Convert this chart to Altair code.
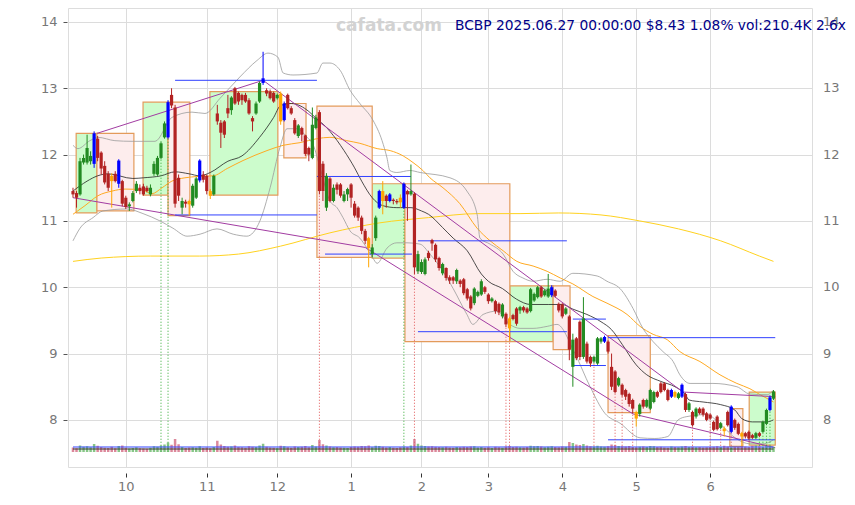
import altair as alt
import pandas as pd

# ---------------- data ----------------
month_tick_idx = [15, 38, 58, 79, 99, 118, 139, 160, 181]
month_tick_lbl = ["10", "11", "12", "1", "2", "3", "4", "5", "6"]
y_ticks = [8, 9, 10, 11, 12, 13, 14]

opens = [11.45,11.42,11.40,11.88,11.88,11.90,11.86,12.24,12.03,11.83,
         11.71,11.68,11.71,11.56,11.60,11.35,11.22,11.30,11.45,11.50,
         11.52,11.50,11.40,11.71,11.70,11.95,12.26,12.26,12.90,12.71,
         11.65,11.20,11.29,11.30,11.23,11.35,11.61,11.70,11.68,11.45,
         11.40,12.62,12.48,12.50,12.70,12.67,13.00,12.93,12.90,12.90,
         12.82,12.55,12.62,12.80,13.08,12.97,12.95,12.93,12.85,12.92,
         12.52,12.90,12.70,12.52,12.28,12.40,12.29,12.10,11.95,12.40,
         12.64,11.86,11.20,11.64,11.30,11.55,11.55,11.30,11.40,11.55,
         11.26,11.20,11.05,10.85,10.74,10.50,10.74,11.20,11.45,11.38,
         11.30,11.32,11.30,11.35,11.20,11.45,11.40,11.41,10.24,10.23,
         10.20,10.52,10.71,10.64,10.44,10.21,10.29,10.15,10.15,10.09,
         10.10,10.12,9.97,9.86,9.76,9.87,9.89,10.00,9.89,9.79,
         9.79,9.75,9.56,9.60,9.53,9.58,9.68,9.65,9.70,9.68,
         9.64,9.80,9.85,10.00,9.88,9.86,9.88,9.95,9.75,9.74,
         9.60,9.56,8.80,9.23,9.48,8.95,9.15,8.95,8.88,8.85,
         9.18,9.18,9.18,8.80,8.73,8.52,8.53,8.45,8.39,8.30,
         8.12,8.09,8.30,8.20,8.17,8.27,8.42,8.55,8.55,8.45,
         8.35,8.42,8.33,8.35,8.39,8.15,8.12,8.05,8.17,8.17,
         8.10,8.08,7.97,8.05,7.88,7.87,8.12,7.82,8.00,7.94,
         7.80,7.80,7.82,7.77,7.73,7.80,7.82,7.94,8.15,8.32]
highs = [11.50,11.45,11.95,12.00,12.30,12.05,12.35,12.28,12.05,11.90,
         11.75,11.72,11.75,11.93,11.62,11.38,11.28,11.45,11.60,11.55,
         11.56,11.53,11.55,11.90,11.98,12.20,12.50,12.82,13.00,12.75,
         11.70,11.35,11.32,11.32,11.56,11.66,11.93,11.75,11.70,11.48,
         11.70,12.75,12.52,12.52,12.90,12.88,13.02,12.95,12.92,12.93,
         12.85,12.58,12.80,13.10,13.55,13.00,12.98,12.95,12.92,12.95,
         12.80,12.92,12.73,12.55,12.46,12.42,12.30,12.12,12.71,12.60,
         12.67,11.90,11.72,11.66,11.55,11.58,11.57,11.45,11.50,11.57,
         11.30,11.22,11.08,10.88,10.76,10.65,11.08,11.47,11.60,11.40,
         11.42,11.34,11.33,11.40,11.58,11.47,11.85,11.43,10.55,10.42,
         10.45,10.55,10.73,10.66,10.46,10.37,10.30,10.18,10.17,10.28,
         10.12,10.14,9.99,9.88,10.00,9.95,10.12,10.02,9.91,9.85,
         9.81,9.77,9.76,9.62,9.55,9.60,9.70,9.72,9.72,9.70,
         9.99,9.92,10.02,10.02,9.97,10.20,10.03,9.97,9.77,9.76,
         9.70,9.58,9.30,9.25,9.50,9.85,9.18,8.97,8.97,9.25,
         9.25,9.27,9.20,9.00,8.75,8.65,8.55,8.47,8.41,8.32,
         8.14,8.25,8.32,8.32,8.47,8.44,8.44,8.57,8.57,8.47,
         8.47,8.44,8.42,8.55,8.41,8.27,8.14,8.19,8.19,8.19,
         8.12,8.10,7.99,8.07,7.97,7.90,8.14,8.22,8.02,7.96,
         7.82,7.82,7.84,7.79,7.82,7.82,7.99,8.17,8.37,8.45]
lows = [11.35,11.20,11.38,11.85,11.85,11.85,11.80,11.90,11.70,11.55,
        11.45,11.20,11.58,11.50,11.22,11.18,11.15,11.28,11.42,11.40,
        11.38,11.43,11.37,11.68,11.68,11.93,12.24,12.24,12.70,11.20,
        11.30,11.10,11.20,11.08,11.20,11.33,11.58,11.58,11.40,11.33,
        11.38,12.45,12.10,12.25,12.55,12.60,12.75,12.75,12.75,12.78,
        12.60,12.35,12.60,12.78,13.05,12.88,12.83,12.78,12.83,12.45,
        12.50,12.68,12.60,12.30,12.25,12.20,11.98,11.90,11.93,12.38,
        11.40,11.30,11.15,11.28,11.28,11.40,11.35,11.28,11.30,11.20,
        11.05,11.00,10.80,10.65,10.30,10.45,10.70,11.18,11.10,11.20,
        11.28,11.25,11.25,11.20,11.18,11.00,11.38,10.20,10.20,10.20,
        10.18,10.40,10.55,10.38,10.25,10.18,10.10,10.05,10.05,10.05,
        10.00,9.88,9.80,9.65,9.73,9.85,9.87,9.90,9.75,9.77,
        9.60,9.58,9.53,9.40,9.20,9.50,9.42,9.60,9.62,9.60,
        9.62,9.78,9.83,9.84,9.86,9.84,9.85,9.85,9.62,9.53,
        9.58,8.90,8.50,8.90,8.90,8.92,8.85,8.80,8.85,8.83,
        9.15,9.16,9.00,8.45,8.40,8.50,8.35,8.30,8.20,8.10,
        7.90,8.05,8.17,8.18,8.15,8.25,8.33,8.40,8.43,8.28,
        8.33,8.33,8.31,8.33,8.12,8.12,7.90,8.02,8.08,8.05,
        7.98,8.00,7.83,7.84,7.86,7.75,7.90,7.80,7.85,7.77,
        7.60,7.72,7.70,7.71,7.71,7.74,7.80,7.92,8.13,8.30]
closes = [11.40,11.35,11.90,11.95,12.10,11.98,12.32,11.95,11.79,11.58,
          11.50,11.60,11.60,11.91,11.26,11.21,11.25,11.42,11.56,11.45,
          11.40,11.45,11.50,11.86,11.95,12.17,12.47,12.79,12.74,11.26,
          11.38,11.30,11.26,11.25,11.53,11.64,11.91,11.62,11.45,11.38,
          11.68,12.50,12.33,12.30,12.62,12.86,12.77,12.80,12.82,12.80,
          12.62,12.50,12.77,13.08,13.15,12.92,12.85,12.80,12.90,12.50,
          12.77,12.70,12.62,12.32,12.44,12.30,12.01,12.00,12.45,12.56,
          11.45,11.45,11.68,11.30,11.50,11.47,11.38,11.40,11.48,11.35,
          11.08,11.05,10.85,10.70,10.59,10.60,11.05,11.45,11.30,11.30,
          11.40,11.30,11.28,11.28,11.56,11.40,11.45,10.30,10.50,10.38,
          10.42,10.44,10.66,10.42,10.29,10.35,10.14,10.10,10.10,10.26,
          10.05,9.91,9.83,9.68,9.98,9.93,10.09,9.93,9.79,9.83,
          9.64,9.62,9.74,9.44,9.38,9.52,9.45,9.70,9.65,9.62,
          9.97,9.90,10.00,9.86,9.95,9.98,10.00,9.87,9.65,9.56,
          9.68,9.06,9.21,8.93,8.95,9.53,8.88,8.85,8.95,9.23,
          9.23,9.25,9.03,8.50,8.42,8.63,8.38,8.35,8.24,8.17,
          8.02,8.23,8.20,8.30,8.45,8.42,8.35,8.42,8.45,8.30,
          8.45,8.35,8.40,8.53,8.15,8.25,7.92,8.17,8.10,8.08,
          8.00,8.02,7.85,7.86,7.95,7.83,7.92,8.20,7.88,7.79,
          7.75,7.75,7.72,7.73,7.80,7.76,7.97,8.15,8.34,8.43]
vols = [180,150,260,210,230,190,320,250,200,170,
        160,210,150,240,260,170,140,160,190,150,
        140,130,170,230,210,260,300,380,290,520,
        310,200,160,180,190,170,230,160,180,150,
        200,450,300,240,210,220,260,200,190,170,
        230,210,200,260,330,210,180,170,150,250,
        230,190,170,220,200,210,240,190,280,220,
        480,310,260,220,190,200,180,170,160,200,
        220,210,240,230,260,190,250,240,210,180,
        200,170,160,190,220,200,260,520,330,260,
        240,220,230,210,200,190,210,180,170,200,
        190,210,200,220,230,180,200,170,190,160,
        210,190,170,220,240,200,210,190,180,200,
        250,230,240,220,190,210,230,200,190,220,
        210,400,360,300,280,320,260,230,220,250,
        220,210,230,300,280,240,230,220,240,200,
        190,210,220,200,240,230,200,210,180,170,
        220,200,190,220,240,200,210,190,200,180,
        190,200,210,230,200,250,220,190,210,200,
        230,220,200,250,260,230,210,240,250,210]
vol_ma_fast = 200
vol_ma_slow = 120

blue_idx = [6, 13, 27, 36, 54, 60, 87, 90, 94, 136, 151, 170, 173, 187, 198]
orange_idx = [11, 33, 39, 59, 84, 88, 93, 124, 160, 171, 185, 190]

# moving averages (bar index, price)
ma_black = [(0,11.45),(4,11.6),(7,11.68),(10,11.71),(17,11.64),(20,11.65),(25,11.68),(29,11.74),
            (33,11.71),(36,11.68),(39,11.73),(44,11.9),(48,11.98),(53,12.26),(57,12.56),(59,12.74),
            (62,12.77),(67,12.65),(69,12.55),(72,12.41),(73,12.35),(77,12.06),(80,11.8),(82,11.6),
            (85,11.35),(88,11.23),(92,11.2),(96,11.2),(99,11.15),(101,11.1),(105,10.9),(108,10.74),
            (112,10.55),(116,10.2),(118,10.09),(122,9.98),(126,9.82),(130,9.74),(135,9.74),(139,9.74),
            (142,9.67),(146,9.59),(150,9.48),(153,9.36),(156,9.14),(160,8.83),(163,8.68),(167,8.58),
            (171,8.5),(174,8.38),(175,8.3),(179,8.27),(184,8.23),(188,8.15),(190,8.02),(193,7.97),
            (197,7.97),(199,8.0)]
ma_orange = [(0,11.1),(3.4,11.23),(7.1,11.38),(11.1,11.45),(14.8,11.48),(19.6,11.47),(22.4,11.41),
             (25.3,11.5),(28.1,11.6),(31.8,11.65),(35.5,11.67),(39.8,11.68),(43.8,11.79),(48.3,11.91),
             (55.1,12.06),(59.7,12.14),(64.5,12.18),(69.3,12.24),(73,12.26),(77.8,12.21),(81.5,12.17),
             (86.4,12.09),(90.1,12.06),(93.8,11.98),(96.6,11.88),(99.4,11.76),(101.4,11.65),(105.1,11.5),
             (109.9,11.26),(114.8,10.89),(118.5,10.7),(122.2,10.55),(126.1,10.39),(130.7,10.32),
             (134.7,10.24),(138.4,10.14),(142,10.05),(147.7,9.86),(151.7,9.76),(157.4,9.59),(161.1,9.41),
             (164.8,9.29),(168.8,9.21),(172.4,9.03),(178.1,8.88),(183.8,8.68),(188.6,8.55),(192.3,8.47),
             (195.2,8.38),(198,8.3),(199,8.27)]
ma_yellow = [(0,10.39),(8,10.44),(22,10.47),(36,10.47),(47,10.5),(59,10.62),(73,10.82),(87,10.97),
             (101,11.05),(115,11.11),(127,11.11),(138,11.12),(150,11.09),(161,11.0),(172,10.88),
             (184,10.7),(195,10.47),(199,10.39)]
bb_upper = [(0,12.14),(1.4,12.09),(4.8,12.21),(7.1,12.26),(11.9,12.21),(16.8,12.2),(23.3,12.2),
            (28.1,12.56),(33.8,12.64),(37.5,12.62),(41.8,12.85),(47.4,13.17),(52.3,13.42),(55.4,13.53),
            (58.2,13.47),(59.7,13.23),(62.5,13.2),(69.3,13.23),(71,13.38),(73,13.38),(75.9,13.27),
            (78.7,12.97),(81.5,12.77),(85.2,12.52),(87.8,12.21),(89.2,11.95),(90,11.76),(92,11.73),
            (95.7,11.76),(98.6,11.73),(107.1,11.65),(111.9,11.45),(114.8,11.1),(115.6,10.74),
            (118.5,10.65),(122.2,10.5),(125,10.24),(127.8,10.14),(130.7,10.09),(134.7,10.12),
            (138.4,10.09),(142,10.21),(148.9,10.17),(151.7,10.09),(155.4,9.98),(159.1,9.68),
            (161.9,9.38),(164.8,9.18),(167.6,9.03),(170.5,8.88),(172.4,8.68),(175.3,8.55),(181.8,8.55),
            (188.6,8.5),(192.3,8.39),(197.2,8.38),(199,8.45)]
bb_lower = [(0,10.7),(2,10.89),(5.7,11.05),(8.5,11.15),(15.3,11.18),(19.9,11.11),(24.7,11.0),
            (28.4,10.89),(32.4,10.77),(36.1,10.8),(40.9,10.88),(45.5,10.8),(49.4,10.77),(53.1,11.0),
            (56,11.5),(58.8,12.11),(60.8,12.39),(63.6,12.39),(66.5,12.26),(68.2,12.15),(70.2,11.8),
            (73,11.3),(75,11.2),(76.7,11.05),(78.7,10.85),(81.5,10.74),(83.5,10.59),(85.2,10.44),
            (86.4,10.36),(89.2,10.59),(92,10.67),(94.9,10.67),(98.6,10.65),(101.4,10.5),(105.1,10.24),
            (108,9.98),(111.9,9.59),(113.6,9.44),(116.5,9.59),(120.5,9.64),(124.1,9.44),(127,9.38),
            (130.7,9.38),(134.7,9.41),(137.5,9.44),(142.6,9.0),(146.9,8.5),(151.1,8.1),(155.4,7.95),
            (161.1,7.73),(165.3,7.72),(169,7.75),(171.9,8.0),(174.4,8.05),(180.1,8.08),(183.8,7.94),
            (188.6,7.71),(192.3,7.64),(196,7.64),(198,7.67),(199,7.7)]

# trend lines (bar index, price)
trend_upper = [(6.8,12.32),(54,13.12),(173.3,8.42),(199.5,8.35)]
trend_lower = [(0,11.35),(83,10.6),(159.1,8.09),(199.5,7.58)]

# horizontal levels: start idx, end idx, price
lvl_x0 = [29, 29, 69.3, 71.6, 98, 98, 142, 142, 152, 152]
lvl_x1 = [69.3, 69.3, 96, 96.3, 140.3, 140.3, 151.4, 151.4, 199.5, 199.5]
lvl_y = [13.12, 11.09, 11.67, 10.5, 10.7, 9.33, 9.52, 8.82, 9.24, 7.7]

# boxes
gbox_x0 = [0.9, 19.9, 38.9, 85, 124.1, 192.1]
gbox_x1 = [6.8, 27.0, 58.2, 94.3, 136.4, 199.5]
gbox_lo = [11.12, 11.39, 11.39, 10.44, 9.18, 7.62]
gbox_hi = [12.32, 12.79, 12.95, 11.56, 10.02, 8.42]
pbox_x0 = [6.8, 27.0, 59.9, 69.3, 94.3, 136.4, 152, 186.6]
pbox_x1 = [17.3, 33.2, 66.2, 85, 124.1, 141.2, 164, 190.3]
pbox_lo = [11.15, 11.08, 11.95, 10.45, 9.18, 9.06, 8.11, 7.6]
pbox_hi = [12.32, 12.79, 12.77, 12.73, 11.56, 10.02, 9.27, 8.17]

green_sig = [25, 27, 94, 195, 196, 197, 198]
red_sig = [70, 97, 123, 124, 148, 154, 156, 159, 176, 181, 184, 187, 190]
sig_base = 7.52

title_text = "BCBP 2025.06.27 00:00:00 $8.43 1.08% vol:210.4K 2.6x"
watermark = "cafata.com"

# ---------------- frames ----------------
n = len(closes)
def kind(i):
    if i in blue_idx:
        return "blue"
    if i in orange_idx:
        return "orange"
    return "up" if closes[i] >= opens[i] else "down"

df = pd.DataFrame({"idx": list(range(n)), "open": opens, "high": highs, "low": lows,
                   "close": closes, "vol": vols})
df["kind"] = [kind(i) for i in range(n)]
df["vkind"] = ["up" if closes[i] >= opens[i] else "down" for i in range(n)]

def pts(lst):
    return pd.DataFrame({"idx": [p[0] for p in lst], "v": [p[1] for p in lst]})

gboxes = pd.DataFrame({"x0": gbox_x0, "x1": gbox_x1, "lo": gbox_lo, "hi": gbox_hi})
pboxes = pd.DataFrame({"x0": pbox_x0, "x1": pbox_x1, "lo": pbox_lo, "hi": pbox_hi})
trend = pd.DataFrame({"idx": [p[0] for p in trend_upper] + [p[0] for p in trend_lower],
                      "v": [p[1] for p in trend_upper] + [p[1] for p in trend_lower],
                      "seg": ["u"] * len(trend_upper) + ["l"] * len(trend_lower)})
levels = pd.DataFrame({"x0": lvl_x0, "x1": lvl_x1, "y": lvl_y})
gsig = pd.DataFrame({"idx": green_sig, "low": [lows[i] for i in green_sig], "base": sig_base})
rsig = pd.DataFrame({"idx": red_sig, "low": [lows[i] for i in red_sig], "base": sig_base})
vma_f = pd.DataFrame({"x0": [0], "x1": [n - 1], "v": [vol_ma_fast]})
vma_s = pd.DataFrame({"x0": [0], "x1": [n - 1], "v": [vol_ma_slow]})

# ---------------- scales / axes ----------------
W, H = 744, 459
FONT = "DejaVu Sans"
xs = alt.Scale(domain=[-1.42, 209.94], nice=False, zero=False, padding=0)
ys = alt.Scale(domain=[7.29, 14.21], nice=False, zero=False, padding=0)
lab_expr = "".join(f"datum.value=={v}?'{l}':" for v, l in zip(month_tick_idx, month_tick_lbl)) + "''"
xaxis = alt.Axis(values=month_tick_idx, labelExpr=lab_expr, grid=True, gridColor="#dcdcdc",
                 domain=False, offset=6, tickSize=4, tickColor="#333", labelPadding=3,
                 labelColor="#777", labelFontSize=13, labelFont=FONT, title=None)
yaxis = alt.Axis(values=y_ticks, grid=True, gridColor="#dcdcdc", domain=False, offset=1,
                 tickSize=4, tickColor="#555", labelPadding=6, labelColor="#777",
                 labelFontSize=13, labelFont=FONT, title=None)

def X(f):
    return alt.X(f, type="quantitative", scale=xs, axis=xaxis)
def X2(f):
    return alt.X2(f)
def Y(f):
    return alt.Y(f, type="quantitative", scale=ys, axis=yaxis)

base = alt.Chart(df)

gbox_layer = alt.Chart(gboxes).mark_rect(stroke="#e39b5b", strokeWidth=1.2, fill="#ccfccc").encode(
    x=X("x0"), x2=X2("x1"), y=Y("lo"), y2=alt.Y2("hi"))
pbox_layer = alt.Chart(pboxes).mark_rect(stroke="#e39b5b", strokeWidth=1.2, fill="#fdeded").encode(
    x=X("x0"), x2=X2("x1"), y=Y("lo"), y2=alt.Y2("hi"))

def line(lst, color, w):
    return alt.Chart(pts(lst)).mark_line(color=color, strokeWidth=w, interpolate="monotone").encode(
        x=X("idx"), y=Y("v"))

yellow_l = line(ma_yellow, "#ffd21f", 1.0)
orange_l = line(ma_orange, "#ffaa22", 1.0)
black_l = line(ma_black, "#222222", 0.8)
bbu_l = line(bb_upper, "#9a9a9a", 0.8)
bbl_l = line(bb_lower, "#9a9a9a", 0.8)

trend_l = alt.Chart(trend).mark_line(color="#a23ca2", strokeWidth=1).encode(
    x=X("idx"), y=Y("v"), detail="seg:N")

lvl_l = alt.Chart(levels).mark_rule(color="#3040ff", strokeWidth=1).encode(
    x=X("x0"), x2=X2("x1"), y=Y("y"))

gsig_l = alt.Chart(gsig).mark_rule(strokeWidth=1, strokeDash=[1, 2], color="#2ea82e").encode(
    x=X("idx"), y=Y("base"), y2=alt.Y2("low"))
rsig_l = alt.Chart(rsig).mark_rule(strokeWidth=1, strokeDash=[1, 2], color="#e05050").encode(
    x=X("idx"), y=Y("base"), y2=alt.Y2("low"))

cscale = alt.Scale(domain=["up", "down", "blue", "orange"],
                   range=["#228b22", "#b22222", "#0000ff", "#ffa500"])
wick = base.mark_rule(strokeWidth=1).encode(
    x=X("idx"), y=Y("low"), y2=alt.Y2("high"), color=alt.Color("kind:N", scale=cscale, legend=None))
body = base.mark_bar(size=3.2).encode(
    x=X("idx"), y=Y("open"), y2=alt.Y2("close"), color=alt.Color("kind:N", scale=cscale, legend=None))

right_lab = alt.Chart(pd.DataFrame({"v": y_ticks})).mark_text(
    align="left", baseline="middle", fontSize=13, font=FONT, color="#777").encode(
    x=alt.value(W + 11), y=Y("v"), text=alt.Text("v:Q"))

txt_df = pd.DataFrame({"a": [0]})
wm = alt.Chart(txt_df).mark_text(text=watermark, fontSize=17, fontWeight="bold", font=FONT,
                                 color="#d2d2d2", align="center", baseline="middle").encode(
    x=alt.value(321), y=alt.value(18))
ttl = alt.Chart(txt_df).mark_text(text=title_text, fontSize=13.8, font=FONT, color="#000088",
                                  align="right", baseline="middle").encode(
    x=alt.value(778), y=alt.value(18))

price = alt.layer(gbox_layer, pbox_layer, yellow_l, orange_l, bbu_l, bbl_l, black_l, trend_l, lvl_l,
                  gsig_l, rsig_l, wick, body, right_lab, wm, ttl)

vs = alt.Scale(domain=[-600, 17760], nice=False, zero=False, padding=0)
vbar = base.mark_bar(size=2.5, opacity=0.75).encode(
    x=X("idx"), y=alt.Y("vol:Q", scale=vs, axis=None), y2=alt.Y2(datum=0),
    color=alt.Color("vkind:N", scale=alt.Scale(domain=["up", "down"], range=["#5fb35f", "#d0607a"]),
                    legend=None))
vline_f = alt.Chart(vma_f).mark_rule(strokeWidth=1.2, color="#3344ff").encode(
    x=X("x0"), x2=X2("x1"), y=alt.Y("v:Q", scale=vs, axis=None))
vline_s = alt.Chart(vma_s).mark_rule(strokeWidth=1.2, color="#333333").encode(
    x=X("x0"), x2=X2("x1"), y=alt.Y("v:Q", scale=vs, axis=None))
volume = alt.layer(vbar, vline_f, vline_s)

chart = alt.layer(price, volume).resolve_scale(y="independent", color="independent").properties(
    width=W, height=H, autosize="none",
    padding={"left": 60, "top": 0, "right": 35, "bottom": 30}
).configure_view(stroke=None).configure(background="white")

chart.save("out.html", embed_options={"renderer": "svg", "actions": False})
